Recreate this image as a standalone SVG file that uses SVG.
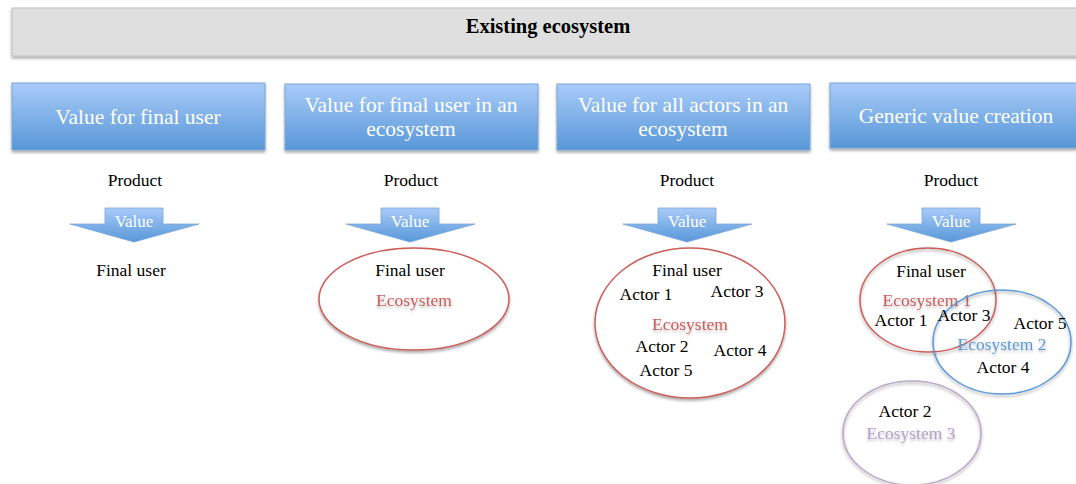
<svg xmlns="http://www.w3.org/2000/svg" width="1076" height="484" viewBox="0 0 1076 484">
<defs>
<linearGradient id="blue" x1="0" y1="0" x2="0" y2="1">
<stop offset="0" stop-color="#a9cbf8"/>
<stop offset="1" stop-color="#5797d8"/>
</linearGradient>
<filter id="sh" x="-10%" y="-10%" width="120%" height="140%">
<feDropShadow dx="0" dy="2" stdDeviation="1.5" flood-color="#000" flood-opacity="0.35"/>
</filter>
<filter id="tsh" x="-10%" y="-30%" width="120%" height="160%">
<feDropShadow dx="0" dy="2" stdDeviation="1.2" flood-color="#000" flood-opacity="0.25"/>
</filter>
</defs>
<style>
text{font-family:"Liberation Serif","Times New Roman",serif;text-anchor:middle}
.hdr{fill:url(#blue);stroke:#7ba5d8;stroke-width:1}
.ht{fill:#fff;font-size:21.5px}
.t{fill:#000;font-size:17.5px}
.arr{fill:url(#blue);stroke:#7ba5d8;stroke-width:0.8}
.vt{fill:#fff;font-size:17px}
.rt{fill:#cc5f5a;font-size:17.5px}
.bt{fill:#5b9ad8;font-size:17.5px}
.pt{fill:#b3a2c8;font-size:17.5px}
</style>
<g id="top">
<rect x="12" y="8" width="1070" height="48" fill="#dfdfdf" stroke="#c0c0c0" filter="url(#sh)"/>
<text x="548" y="33" style="font-size:20.5px;font-weight:bold">Existing ecosystem</text>
</g>
<g id="col1">
<rect class="hdr" x="12" y="83" width="253" height="67" filter="url(#sh)"/>
<text class="ht" x="138" y="124">Value for final user</text>
<text class="t" x="135" y="186">Product</text>
<path class="arr" d="M105 208 H163 V224 H199 L134 242 L70 224 H105 Z"/>
<text class="vt" x="134" y="227">Value</text>
<text class="t" x="131" y="276">Final user</text>
</g>
<g id="col2">
<rect class="hdr" x="285" y="84" width="253" height="66" filter="url(#sh)"/>
<text class="ht" x="411" y="112">Value for final user in an</text>
<text class="ht" x="411" y="136">ecosystem</text>
<text class="t" x="411" y="186">Product</text>
<path class="arr" d="M381 208 H439 V224 H475 L410 242 L346 224 H381 Z"/>
<text class="vt" x="410" y="227">Value</text>
<ellipse cx="414" cy="299" rx="95" ry="51" fill="#fff" stroke="#cc5f5a" stroke-width="1.5" filter="url(#sh)"/>
<text class="t" x="410" y="276">Final user</text>
<text class="rt" x="414" y="306" filter="url(#tsh)">Ecosystem</text>
</g>
<g id="col3">
<rect class="hdr" x="557" y="84" width="253" height="66" filter="url(#sh)"/>
<text class="ht" x="683" y="112">Value for all actors in an</text>
<text class="ht" x="683" y="136">ecosystem</text>
<text class="t" x="687" y="186">Product</text>
<path class="arr" d="M658 208 H716 V224 H752 L687 242 L623 224 H658 Z"/>
<text class="vt" x="687" y="227">Value</text>
<ellipse cx="690" cy="323" rx="95" ry="75" fill="#fff" stroke="#cc5f5a" stroke-width="1.5" filter="url(#sh)"/>
<text class="t" x="687" y="276">Final user</text>
<text class="t" x="646" y="300">Actor 1</text>
<text class="t" x="737" y="297">Actor 3</text>
<text class="rt" x="690" y="330" filter="url(#tsh)">Ecosystem</text>
<text class="t" x="662" y="352">Actor 2</text>
<text class="t" x="740" y="356">Actor 4</text>
<text class="t" x="666" y="376">Actor 5</text>
</g>
<g id="col4">
<rect class="hdr" x="830" y="83" width="250" height="65" filter="url(#sh)"/>
<text class="ht" x="956" y="123">Generic value creation</text>
<text class="t" x="951" y="186">Product</text>
<path class="arr" d="M922 208 H980 V224 H1016 L951 242 L887 224 H922 Z"/>
<text class="vt" x="951" y="227">Value</text>
</g>
<g id="eco1">
<ellipse cx="928" cy="300" rx="68" ry="52" fill="none" stroke="#cc5f5a" stroke-width="1.5" filter="url(#sh)"/>
<text class="t" x="931" y="277">Final user</text>
<text class="rt" x="927" y="306" filter="url(#tsh)">Ecosystem 1</text>
<text class="t" x="901" y="326">Actor 1</text>
</g>
<g id="eco2">
<ellipse cx="1002" cy="342" rx="69" ry="52" fill="none" stroke="#5b9ad8" stroke-width="1.5" filter="url(#sh)"/>
<text class="t" x="964" y="321">Actor 3</text>
<text class="t" x="1040" y="329">Actor 5</text>
<text class="bt" x="1002" y="350" filter="url(#tsh)">Ecosystem 2</text>
<text class="t" x="1003" y="373">Actor 4</text>
</g>
<g id="eco3">
<ellipse cx="912" cy="433" rx="69" ry="52" fill="none" stroke="#b9a6cc" stroke-width="1.5" filter="url(#sh)"/>
<text class="t" x="905" y="417">Actor 2</text>
<text class="pt" x="911" y="439" filter="url(#tsh)">Ecosystem 3</text>
</g>
<g id="connectors"/>
</svg>
